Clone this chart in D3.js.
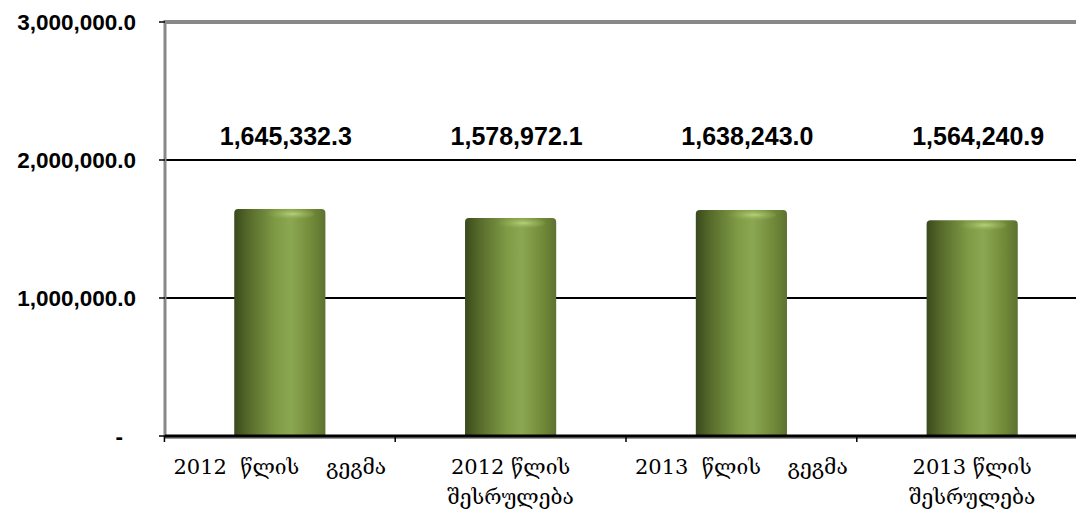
<!DOCTYPE html>
<html>
<head>
<meta charset="utf-8">
<script src="https://cdn.jsdelivr.net/npm/d3@7"></script>
<style>
  body { margin: 0; background: #fff; }
  svg { display: block; }
</style>
</head>
<body>
<svg width="1076" height="511"></svg>
<script>
// chart values
const categories = [
    ["2012  წლის    გეგმა"],
    ["2012 წლის", "შესრულება"],
    ["2013  წლის    გეგმა"],
    ["2013 წლის", "შესრულება"]
]
const values = [1645332.3, 1578972.1, 1638243.0, 1564240.9]
const yTicks = [0, 1000000, 2000000, 3000000]

let svg = d3.select("svg"),
    margin = {top: 22, right: -11, bottom: 75, left: 165},
    width = +svg.attr("width") - margin.left - margin.right,
    height = +svg.attr("height") - margin.top - margin.bottom

let x = d3.scaleBand()
    .domain(d3.range(categories.length))
    .range([0, width])
    .paddingInner(0.605)
    .paddingOuter(0.3)

let y = d3.scaleLinear()
    .domain([0, 3000000])
    .range([height, 0])

let fmt = d3.format(",.1f")

let defs = svg.append("defs")
let grad = defs.append("linearGradient")
    .attr("id", "barGrad")
    .attr("x1", "0%").attr("x2", "100%").attr("y1", "0%").attr("y2", "0%")
grad.append("stop").attr("offset", "0%").attr("stop-color", "#3a4a1c")
grad.append("stop").attr("offset", "15%").attr("stop-color", "#55692a")
grad.append("stop").attr("offset", "45%").attr("stop-color", "#7e9a45")
grad.append("stop").attr("offset", "62%").attr("stop-color", "#8ca752")
grad.append("stop").attr("offset", "85%").attr("stop-color", "#718a39")
grad.append("stop").attr("offset", "100%").attr("stop-color", "#5d7230")

let hl = defs.append("radialGradient")
    .attr("id", "topGlow")
    .attr("cx", "60%").attr("cy", "50%").attr("r", "50%")
hl.append("stop").attr("offset", "0%").attr("stop-color", "#b8d47a").attr("stop-opacity", 0.95)
hl.append("stop").attr("offset", "100%").attr("stop-color", "#8ca752").attr("stop-opacity", 0)

let g = svg.append("g")
    .attr("transform", "translate(" + margin.left + "," + margin.top + ")")

// gridlines
g.selectAll(".grid")
    .data(yTicks.filter(function (d) { return d > 0 && d < 3000000 }))
    .enter()
    .append("line")
    .attr("x1", 0)
    .attr("x2", width)
    .attr("y1", function (d) { return y(d) })
    .attr("y2", function (d) { return y(d) })
    .attr("stroke", "#000")
    .attr("stroke-width", 2)

// plot frame: top and left in grey
g.append("line")
    .attr("x1", 0).attr("x2", width)
    .attr("y1", y(3000000)).attr("y2", y(3000000))
    .attr("stroke", "#888").attr("stroke-width", 4)
g.append("line")
    .attr("x1", 0).attr("x2", 0)
    .attr("y1", y(3000000) - 2).attr("y2", height)
    .attr("stroke", "#888").attr("stroke-width", 3)

// bars
let bars = g.selectAll(".bar")
    .data(values)
    .enter()
    .append("g")
    .attr("class", "bar")

bars.append("path")
    .attr("d", function (d, i) {
        let x0 = x(i), x1 = x(i) + x.bandwidth(), y0 = y(d), y1 = height, r = 4
        return "M" + x0 + "," + y1 + "V" + (y0 + r) + "Q" + x0 + "," + y0 + " " + (x0 + r) + "," + y0 +
            "H" + (x1 - r) + "Q" + x1 + "," + y0 + " " + x1 + "," + (y0 + r) + "V" + y1 + "Z"
    })
    .attr("fill", "url(#barGrad)")

bars.append("ellipse")
    .attr("cx", function (d, i) { return x(i) + x.bandwidth() * 0.58 })
    .attr("cy", function (d) { return y(d) + 5 })
    .attr("rx", x.bandwidth() * 0.3)
    .attr("ry", 6)
    .attr("fill", "url(#topGlow)")

// baseline
g.append("line")
    .attr("x1", 0).attr("x2", width)
    .attr("y1", height + 2).attr("y2", height + 2)
    .attr("stroke", "#999").attr("stroke-width", 2)
g.append("line")
    .attr("x1", 0).attr("x2", width)
    .attr("y1", height).attr("y2", height)
    .attr("stroke", "#000").attr("stroke-width", 3)

// category tick marks
g.selectAll(".xtick")
    .data(d3.range(categories.length + 1))
    .enter()
    .append("line")
    .attr("x1", function (d) { return d * x.step() })
    .attr("x2", function (d) { return d * x.step() })
    .attr("y1", height)
    .attr("y2", height + 6)
    .attr("transform", "translate(" + (x(0) - x.step() * x.paddingInner() / 2) + ",0)")
    .attr("stroke", "#000")
    .attr("stroke-width", 1.5)

// y axis ticks and labels
g.selectAll(".ytick")
    .data(yTicks)
    .enter()
    .append("line")
    .attr("x1", -6).attr("x2", 0)
    .attr("y1", function (d) { return y(d) })
    .attr("y2", function (d) { return y(d) })
    .attr("stroke", "#000").attr("stroke-width", 1.5)

g.selectAll(".ylab")
    .data(yTicks)
    .enter()
    .append("text")
    .attr("x", function (d) { return d === 0 ? -42 : -29 })
    .attr("y", function (d) { return y(d) })
    .attr("dy", "0.35em")
    .attr("text-anchor", "end")
    .style("font-family", "Liberation Sans, Arial, sans-serif")
    .style("font-weight", "bold")
    .style("font-size", "22.5px")
    .text(function (d) { return d === 0 ? "-" : fmt(d) })

// value labels
g.selectAll(".vlab")
    .data(values)
    .enter()
    .append("text")
    .attr("x", function (d, i) { return x(i) + x.bandwidth() / 2 + 6 })
    .attr("y", 123)
    .attr("text-anchor", "middle")
    .style("font-family", "Liberation Sans, Arial, sans-serif")
    .style("font-weight", "bold")
    .style("font-size", "25px")
    .text(function (d) { return fmt(d) })

// category labels
let clab = g.selectAll(".clab")
    .data(categories)
    .enter()
    .append("text")
    .attr("x", function (d, i) { return x(i) + x.bandwidth() / 2 })
    .attr("y", height + 38)
    .attr("text-anchor", "middle")
    .style("font-family", "DejaVu Serif, serif")
    .style("font-size", "21px")
    .style("white-space", "pre")

clab.selectAll("tspan")
    .data(function (d) { return d })
    .enter()
    .append("tspan")
    .attr("x", function () { return d3.select(this.parentNode).attr("x") })
    .attr("dy", function (d, i) { return i === 0 ? 0 : 30 })
    .text(function (d) { return d })
</script>
</body>
</html>
